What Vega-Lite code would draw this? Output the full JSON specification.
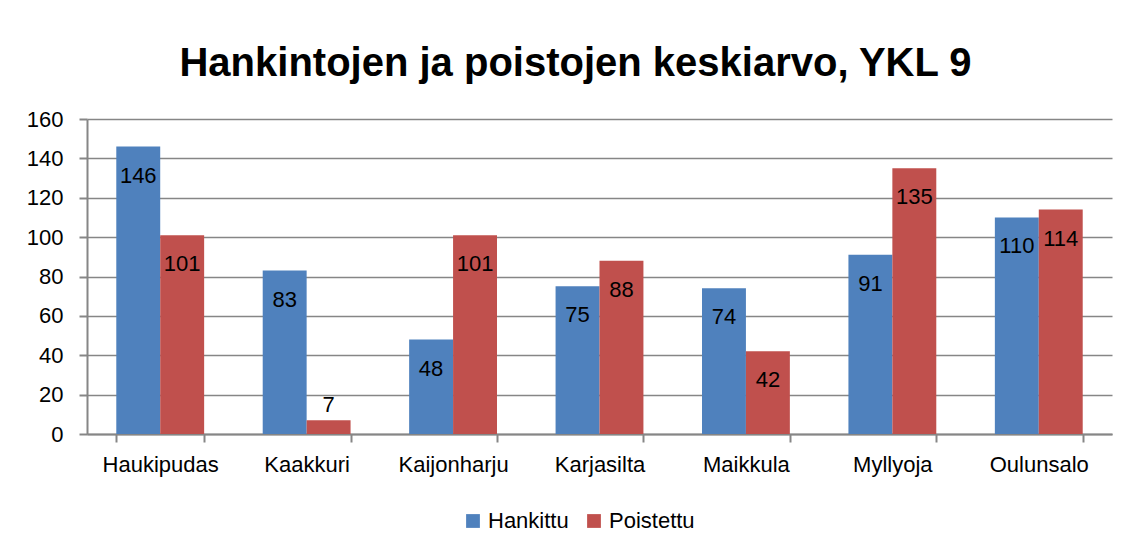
{
  "$schema": "https://vega.github.io/schema/vega-lite/v6.json",
  "width": 1025,
  "height": 315,
  "autosize": {"type": "none"},
  "padding": {"left": 87, "top": 119, "right": 19, "bottom": 119},
  "background": "white",
  "title": {
    "text": "Hankintojen ja poistojen keskiarvo, YKL 9",
    "font": "Liberation Sans Narrow, Liberation Sans, Arial",
    "fontSize": 40,
    "fontWeight": "bold",
    "color": "black",
    "anchor": "middle",
    "dx": -24,
    "offset": 24
  },
  "data": {
    "values": [
      {"alue": "Haukipudas", "sarja": "Hankittu", "arvo": 146},
      {"alue": "Haukipudas", "sarja": "Poistettu", "arvo": 101},
      {"alue": "Kaakkuri", "sarja": "Hankittu", "arvo": 83},
      {"alue": "Kaakkuri", "sarja": "Poistettu", "arvo": 7},
      {"alue": "Kaijonharju", "sarja": "Hankittu", "arvo": 48},
      {"alue": "Kaijonharju", "sarja": "Poistettu", "arvo": 101},
      {"alue": "Karjasilta", "sarja": "Hankittu", "arvo": 75},
      {"alue": "Karjasilta", "sarja": "Poistettu", "arvo": 88},
      {"alue": "Maikkula", "sarja": "Hankittu", "arvo": 74},
      {"alue": "Maikkula", "sarja": "Poistettu", "arvo": 42},
      {"alue": "Myllyoja", "sarja": "Hankittu", "arvo": 91},
      {"alue": "Myllyoja", "sarja": "Poistettu", "arvo": 135},
      {"alue": "Oulunsalo", "sarja": "Hankittu", "arvo": 110},
      {"alue": "Oulunsalo", "sarja": "Poistettu", "arvo": 114}
    ]
  },
  "encoding": {
    "x": {
      "field": "alue",
      "type": "nominal",
      "sort": null,
      "title": null,
      "scale": {"paddingInner": 0.4, "paddingOuter": 0.2},
      "axis": {
        "labelAngle": 0,
        "labelFont": "Liberation Sans",
        "labelFontSize": 22,
        "labelColor": "black",
        "labelPadding": 12,
        "tickBand": "extent",
        "tickSize": 8,
        "tickColor": "#868686",
        "domainColor": "#868686",
        "tickWidth": 2,
        "domainWidth": 2
      }
    },
    "xOffset": {"field": "sarja", "type": "nominal", "scale": {"paddingInner": 0, "paddingOuter": 0}},
    "y": {
      "field": "arvo",
      "type": "quantitative",
      "title": null,
      "scale": {"domain": [0, 160], "nice": false},
      "axis": {
        "values": [0, 20, 40, 60, 80, 100, 120, 140, 160],
        "labelFont": "Liberation Sans",
        "labelFontSize": 22,
        "labelColor": "black",
        "labelPadding": 16,
        "tickSize": 8,
        "tickColor": "#868686",
        "domainColor": "#868686",
        "tickWidth": 2,
        "domainWidth": 2,
        "gridColor": "#868686",
        "gridWidth": 1.5,
        "grid": true
      }
    }
  },
  "layer": [
    {
      "mark": {"type": "bar"},
      "encoding": {
        "color": {
          "field": "sarja",
          "type": "nominal",
          "title": null,
          "scale": {"domain": ["Hankittu", "Poistettu"], "range": ["#4F81BD", "#C0504D"]},
          "legend": {
            "orient": "none",
            "direction": "horizontal",
            "legendX": 375,
            "legendY": 391,
            "symbolType": "square",
            "symbolSize": 190,
            "symbolStrokeWidth": 0,
            "symbolOpacity": 1,
            "labelFont": "Liberation Sans",
            "labelFontSize": 22,
            "labelColor": "black",
            "labelOffset": 4,
            "columnPadding": 14
          }
        }
      }
    },
    {
      "transform": [{"filter": "datum.arvo >= 20"}],
      "mark": {"type": "text", "baseline": "middle", "dy": 29, "font": "Liberation Sans", "fontSize": 22, "color": "black"},
      "encoding": {"text": {"field": "arvo", "type": "quantitative"}}
    },
    {
      "transform": [{"filter": "datum.arvo < 20"}],
      "mark": {"type": "text", "baseline": "middle", "dy": -15, "font": "Liberation Sans", "fontSize": 22, "color": "black"},
      "encoding": {"text": {"field": "arvo", "type": "quantitative"}}
    }
  ],
  "config": {
    "view": {"stroke": null}
  }
}
